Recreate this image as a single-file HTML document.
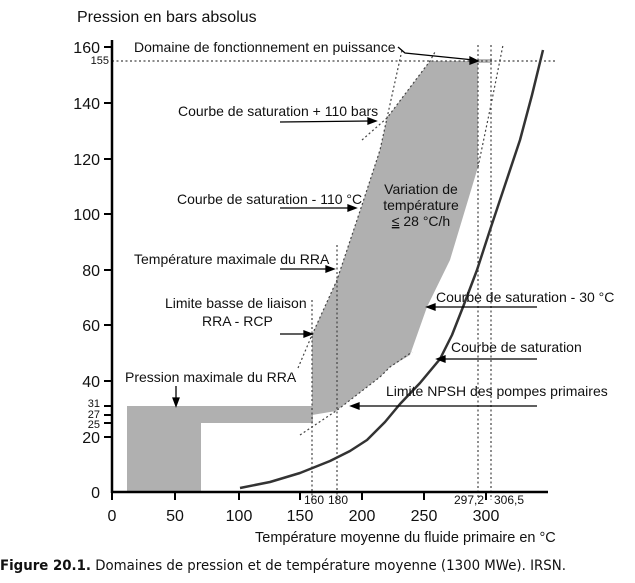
<!DOCTYPE html><html><head><meta charset="utf-8"><style>body{margin:0;background:#fff}svg{display:block}text{font-family:"Liberation Sans",sans-serif;fill:#111}</style></head><body>
<svg width="635" height="583" viewBox="0 0 635 583">
<rect width="635" height="583" fill="#fff"/>
<path d="M127,406 H313 V423 H201 V492 H127 Z" fill="#b0b0b0"/>
<path d="M312,335 L337,280 L362,205 L380,150 L387,118 L430,61 L478,61 L478,167 L450,260 L427,307 L410,355 L390,367 L380,377 L336,411 L312,415 Z" fill="#b0b0b0"/>
<rect x="478" y="59" width="14" height="4" fill="#bbb"/>
<g stroke="#444" stroke-width="1.2" stroke-dasharray="2,2.5" fill="none">
<line x1="112" y1="61" x2="556" y2="61"/>
<line x1="312" y1="300" x2="312" y2="500"/>
<line x1="337" y1="245" x2="337" y2="500"/>
<line x1="478" y1="45" x2="478" y2="500"/>
<line x1="491" y1="45" x2="491" y2="500"/>
<polyline points="298,368 312,335 337,280 362,205 380,150 387,118 402,50"/>
<polyline points="362,140 387,118 430,61 435,52"/>
<polyline points="478,167 492,100 503,45"/>
<polyline points="300,435 336,411 380,377 390,367 412,352"/>
</g>
<polyline points="240,488 270,482 300,473 330,461 350,451 367,440 385,422 400,404 420,383 440,359 452,335 463,307 477,270 490,230 505,185 520,140 532,95 543,50" stroke="#333" stroke-width="2.5" fill="none" stroke-linejoin="round"/>
<g stroke="#000" stroke-width="2.5">
<line x1="112" y1="40" x2="112" y2="493"/>
<line x1="111" y1="492" x2="548" y2="492"/>
</g>
<g stroke="#000" stroke-width="2">
<line x1="104" y1="47" x2="112" y2="47"/><line x1="104" y1="103" x2="112" y2="103"/><line x1="104" y1="159" x2="112" y2="159"/><line x1="104" y1="214" x2="112" y2="214"/><line x1="104" y1="270" x2="112" y2="270"/><line x1="104" y1="325" x2="112" y2="325"/><line x1="104" y1="381" x2="112" y2="381"/><line x1="104" y1="437" x2="112" y2="437"/>
<line x1="104" y1="406" x2="112" y2="406"/><line x1="104" y1="415" x2="112" y2="415"/><line x1="104" y1="423" x2="112" y2="423"/>
<line x1="112" y1="492" x2="112" y2="500"/><line x1="175" y1="492" x2="175" y2="500"/><line x1="239" y1="492" x2="239" y2="500"/><line x1="300" y1="492" x2="300" y2="500"/><line x1="362" y1="492" x2="362" y2="500"/><line x1="424" y1="492" x2="424" y2="500"/><line x1="486" y1="492" x2="486" y2="500"/>
</g>
<g font-size="16" text-anchor="end">
<text x="100" y="53">160</text><text x="100" y="109">140</text><text x="100" y="165">120</text><text x="100" y="220">100</text><text x="100" y="276">80</text><text x="100" y="331">60</text><text x="100" y="387">40</text><text x="100" y="443">20</text><text x="100" y="498">0</text>
</g>
<g font-size="11" text-anchor="end" fill="#333"><text x="100" y="407">31</text><text x="100" y="418">27</text><text x="100" y="428">25</text><text x="109" y="64">155</text></g>
<g font-size="16" text-anchor="middle">
<text x="112" y="521">0</text><text x="175" y="521">50</text><text x="239" y="521">100</text><text x="300" y="521">150</text><text x="362" y="521">200</text><text x="424" y="521">250</text><text x="486" y="521">300</text>
</g>
<g font-size="12" fill="#333"><text x="304" y="504">160</text><text x="328" y="504">180</text><text x="454" y="504">297,2</text><text x="494" y="504">306,5</text></g>
<text x="77" y="22" font-size="16">Pression en bars absolus</text>
<text x="255" y="542" font-size="14.5">Température moyenne du fluide primaire en °C</text>
<text x="0" y="570" font-size="14.5" style="font-family:'DejaVu Sans',sans-serif" textLength="566" lengthAdjust="spacingAndGlyphs"><tspan font-weight="bold">Figure 20.1.</tspan> Domaines de pression et de température moyenne (1300 MWe). IRSN.</text>
<g font-size="14">
<text x="134" y="52">Domaine de fonctionnement en puissance</text>
<text x="178" y="116">Courbe de saturation + 110 bars</text>
<text x="177" y="204">Courbe de saturation - 110 °C</text>
<text x="134" y="264">Température maximale du RRA</text>
<text x="165" y="308">Limite basse de liaison</text>
<text x="202" y="326">RRA - RCP</text>
<text x="125" y="382">Pression maximale du RRA</text>
<text x="436" y="302">Courbe de saturation - 30 °C</text>
<text x="451" y="352">Courbe de saturation</text>
<text x="386" y="396">Limite NPSH des pompes primaires</text>
</g>
<g font-size="14" text-anchor="middle"><text x="421" y="194">Variation de</text><text x="421" y="210">température</text><text x="421" y="226"><tspan text-decoration="underline">≤</tspan> 28 °C/h</text></g>
<g stroke="#000" stroke-width="1.3" fill="#000">
<polyline points="398,47 405,53 474,60" fill="none"/><polygon points="478,61 470,57 470,64"/>
<line x1="280" y1="122" x2="370" y2="121"/><polygon points="376,121 368,118 368,124"/>
<line x1="280" y1="208" x2="350" y2="208"/><polygon points="356,208 348,205 348,211"/>
<line x1="280" y1="269" x2="328" y2="269"/><polygon points="334,269 326,266 326,272"/>
<line x1="280" y1="334" x2="306" y2="334"/><polygon points="312,334 304,331 304,337"/>
<line x1="176" y1="386" x2="176" y2="400"/><polygon points="176,406 173,398 179,398"/>
<line x1="435" y1="307" x2="537" y2="307"/><polygon points="427,307 435,304 435,310"/>
<line x1="445" y1="359" x2="537" y2="359"/><polygon points="437,359 445,356 445,362"/>
<line x1="359" y1="406" x2="537" y2="406"/><polygon points="351,406 359,403 359,409"/>
</g>
</svg></body></html>
